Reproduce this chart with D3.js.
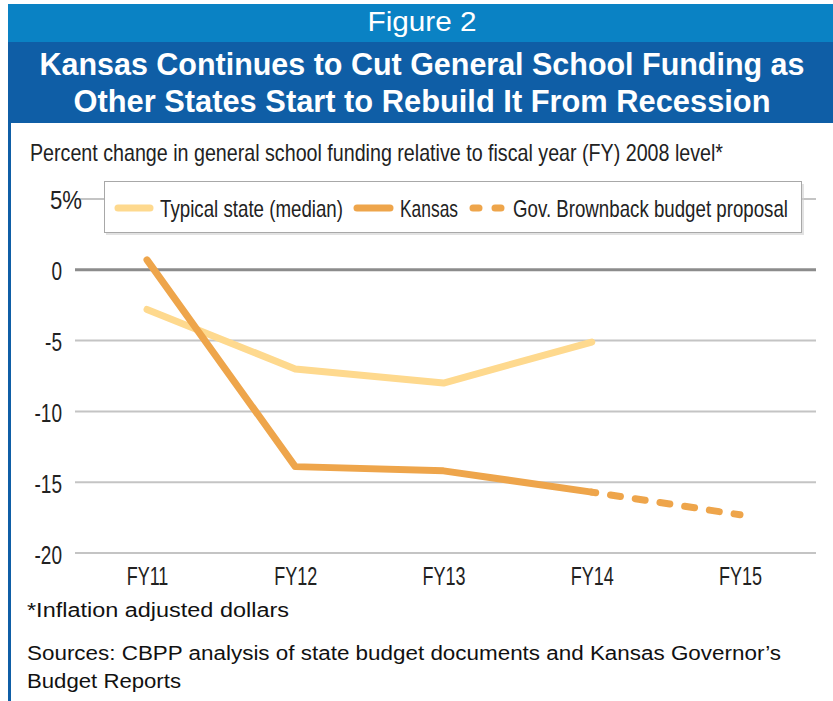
<!DOCTYPE html>
<html>
<head>
<meta charset="utf-8">
<title>Figure 2</title>
<script src="https://d3js.org/d3.v7.min.js"></script>
<style>
  body { margin: 0; background: #fff; }
  text { font-family: "Liberation Sans", Arial, sans-serif; }
</style>
</head>
<body>
<div id="chart"></div>
<script>
const years = ["FY11", "FY12", "FY13", "FY14", "FY15"];
const typical = [-2.8, -7.0, -8.0, -5.1];
const kansas = [0.7, -13.9, -14.2, -15.7];
const proposal = [-15.7, -17.3];   // FY14 -> FY15
const yTicks = [5, 0, -5, -10, -15, -20];
const legendLabels = ["Typical state (median)", "Kansas", "Gov. Brownback budget proposal"];

const W = 833, H = 701;
const cLight = "#fed98e", cKansas = "#eea54b";

// the original uses a condensed face, so squeeze the text to its width
function fit(sel, w) {
  sel.attr("textLength", w).attr("lengthAdjust", "spacingAndGlyphs");
}
function squeeze(sel, k) {
  sel.each(function() {
    d3.select(this).attr("textLength", this.getComputedTextLength() * k)
      .attr("lengthAdjust", "spacingAndGlyphs");
  });
}

const svg = d3.select("#chart").append("svg")
  .attr("width", W).attr("height", H);

// header bands
svg.append("rect").attr("x", 8).attr("y", 4).attr("width", W - 8).attr("height", 38).attr("fill", "#0a82c4");
svg.append("rect").attr("x", 8).attr("y", 42).attr("width", W - 8).attr("height", 81).attr("fill", "#0f5ea6");
svg.append("rect").attr("x", 8).attr("y", 123).attr("width", 3).attr("height", H - 123).attr("fill", "#0f5ea6");

svg.append("text").attr("x", 422).attr("y", 31).attr("text-anchor", "middle")
  .attr("fill", "#fff").attr("font-size", 28).text("Figure 2").call(fit, 109);
svg.append("text").attr("x", 422).attr("y", 75).attr("text-anchor", "middle")
  .attr("fill", "#fff").attr("font-size", 32).attr("font-weight", "bold")
  .text("Kansas Continues to Cut General School Funding as").call(fit, 765);
svg.append("text").attr("x", 422).attr("y", 112).attr("text-anchor", "middle")
  .attr("fill", "#fff").attr("font-size", 32).attr("font-weight", "bold")
  .text("Other States Start to Rebuild It From Recession").call(fit, 697);

svg.append("text").attr("x", 30).attr("y", 161).attr("fill", "#222").attr("font-size", 24)
  .text("Percent change in general school funding relative to fiscal year (FY) 2008 level*")
  .call(fit, 693);

// scales
const x = d3.scalePoint().domain(years).range([147, 740]);
const y = d3.scaleLinear().domain([-20, 5]).range([553, 199]);

// grid
const grid = svg.append("g");
grid.selectAll("line").data(yTicks).enter().append("line")
  .attr("x1", 75).attr("x2", 816)
  .attr("y1", d => y(d)).attr("y2", d => y(d))
  .attr("stroke", d => d === 0 ? "#8c8c8c" : "#c4c4c4")
  .attr("stroke-width", d => d === 0 ? 3 : 2);

// y axis labels (top one carries the % sign and hangs past the others)
const yAxis = svg.append("g").attr("transform", "translate(62,0)")
  .call(d3.axisLeft(y).tickValues(yTicks).tickSize(0).tickPadding(0)
    .tickFormat(d => d === 5 ? "" : d));
yAxis.select(".domain").remove();
yAxis.selectAll("text").attr("font-size", 25).attr("fill", "#222")
  .attr("font-family", null).attr("dy", "0.4em").call(squeeze, 0.76);
svg.append("text").attr("x", 50).attr("y", y(5)).attr("dy", "0.4em")
  .attr("font-size", 25).attr("fill", "#222").text("5%").call(fit, 32);

// x axis labels
const xAxis = svg.append("g").attr("transform", "translate(0,563)")
  .call(d3.axisBottom(x).tickSize(0).tickPadding(0));
xAxis.select(".domain").remove();
xAxis.selectAll("text").attr("font-size", 25).attr("fill", "#222")
  .attr("font-family", null).attr("dy", "0.88em").call(squeeze, 0.72);

// lines
const line = d3.line().x(d => x(d[0])).y(d => y(d[1]));
svg.append("path").datum(typical.map((v, i) => [years[i], v]))
  .attr("d", line).attr("fill", "none").attr("stroke", cLight)
  .attr("stroke-width", 7).attr("stroke-linecap", "round").attr("stroke-linejoin", "round");
svg.append("path").datum(kansas.map((v, i) => [years[i], v]))
  .attr("d", line).attr("fill", "none").attr("stroke", cKansas)
  .attr("stroke-width", 7).attr("stroke-linecap", "round").attr("stroke-linejoin", "round");
svg.append("path").datum(proposal.map((v, i) => [years[i + 3], v]))
  .attr("d", line).attr("fill", "none").attr("stroke", cKansas)
  .attr("stroke-width", 7).attr("stroke-linecap", "round")
  .attr("stroke-dasharray", "10 15").attr("stroke-dashoffset", 6);

// legend
const lg = svg.append("g");
lg.append("rect").attr("x", 106).attr("y", 184).attr("width", 698).attr("height", 51)
  .attr("fill", "#cfcfcf").attr("opacity", 0.6);
lg.append("rect").attr("x", 104.5).attr("y", 181.5).attr("width", 697).attr("height", 51)
  .attr("fill", "#fff").attr("stroke", "#a8a8a8").attr("stroke-width", 1);

const items = [
  { x: 118, w: 32, c: cLight, dash: null, tx: 160, tw: 183 },
  { x: 357, w: 33, c: cKansas, dash: null, tx: 400, tw: 58 },
  { x: 473, w: 28, c: cKansas, dash: "6 16", tx: 513, tw: 275 }
];
items.forEach((it, i) => {
  lg.append("line").attr("x1", it.x).attr("x2", it.x + it.w).attr("y1", 208).attr("y2", 208)
    .attr("stroke", it.c).attr("stroke-width", 7).attr("stroke-linecap", "round")
    .attr("stroke-dasharray", it.dash);
  lg.append("text").attr("x", it.tx).attr("y", 217).attr("font-size", 24).attr("fill", "#222")
    .text(legendLabels[i]).call(fit, it.tw);
});

// notes
svg.append("text").attr("x", 27).attr("y", 617).attr("font-size", 20).attr("fill", "#111")
  .text("*Inflation adjusted dollars").call(fit, 262);
svg.append("text").attr("x", 27).attr("y", 660).attr("font-size", 20).attr("fill", "#111")
  .text("Sources: CBPP analysis of state budget documents and Kansas Governor\u2019s").call(fit, 754);
svg.append("text").attr("x", 27).attr("y", 688).attr("font-size", 20).attr("fill", "#111")
  .text("Budget Reports").call(fit, 154);
</script>
</body>
</html>
